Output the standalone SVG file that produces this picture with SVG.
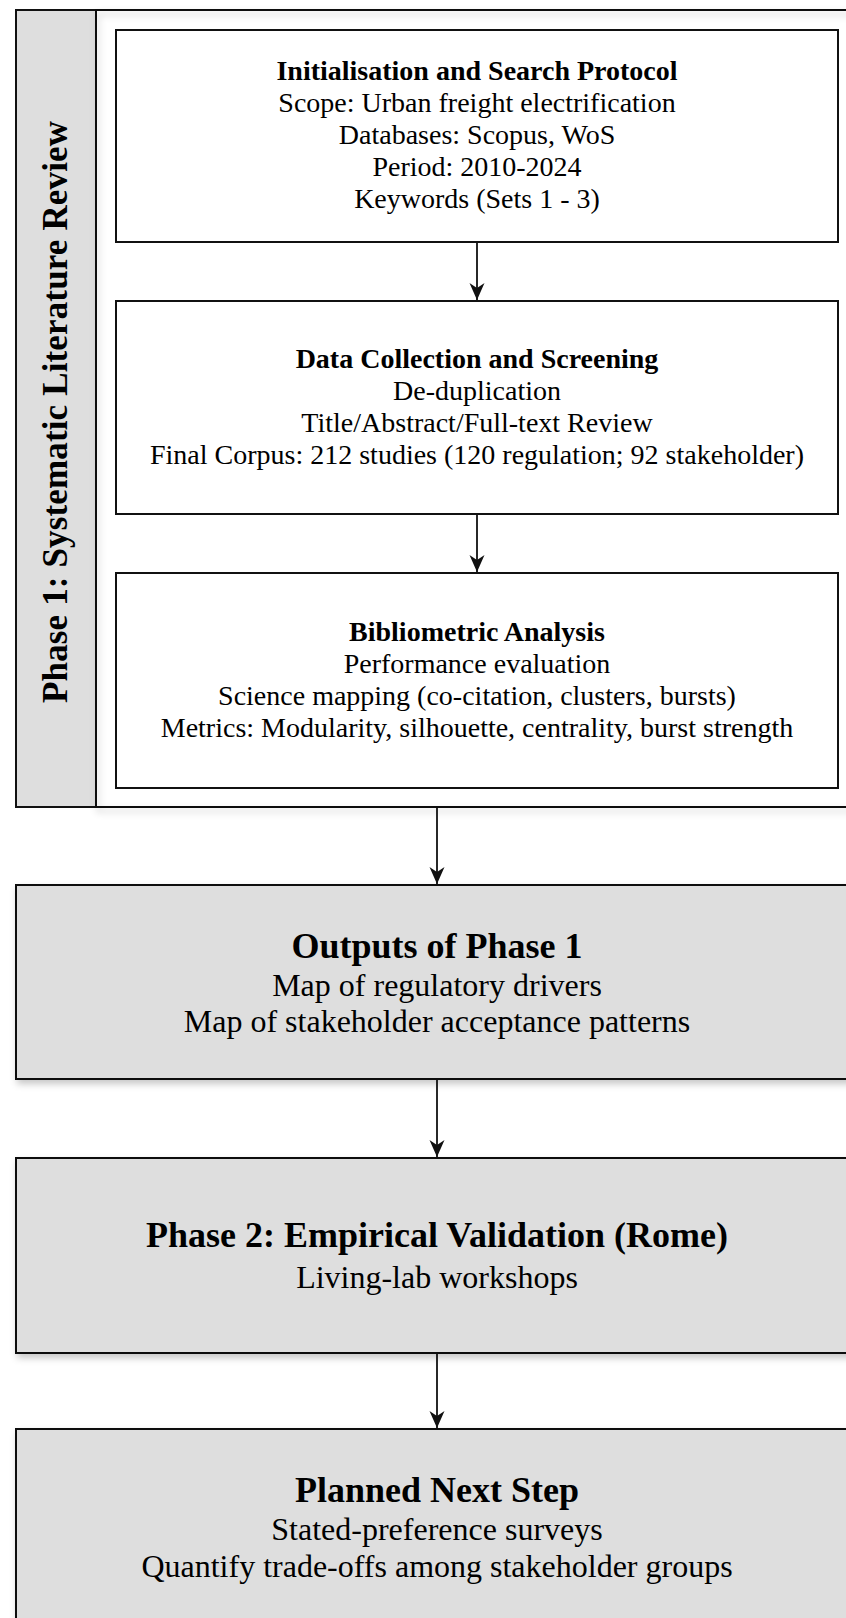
<svg xmlns="http://www.w3.org/2000/svg" width="846" height="1618" viewBox="0 0 846 1618">
<defs>
<style>
.t{font-family:"Liberation Serif","Times New Roman",serif;fill:#000;text-anchor:middle}
.b28{font-size:28px;font-weight:bold}
.r28{font-size:28px}
.b36{font-size:36px;font-weight:bold}
.r32{font-size:32px}
.box{fill:#fff;stroke:#111;stroke-width:2}
.gbox{fill:#dedede;stroke:#111;stroke-width:2}
.edge{fill:none;stroke:#111;stroke-width:1.8}
</style>
<filter id="sh" x="-10%" y="-10%" width="130%" height="130%">
<feDropShadow dx="2" dy="4" stdDeviation="3.5" flood-color="#000" flood-opacity="0.22"/>
</filter>
<marker id="ah" markerWidth="18" markerHeight="16" refX="17" refY="8" orient="auto" markerUnits="userSpaceOnUse" viewBox="0 0 18 16">
<path d="M0,0.5 L17,8 L0,15.5 L5,8 Z" fill="#111"/>
</marker>
</defs>

<g id="phase1-container">
<rect x="16" y="10" width="80" height="797" fill="#dedede" stroke="#111" stroke-width="2"/>
<rect x="96" y="10" width="762" height="797" fill="none" stroke="#111" stroke-width="2" filter="url(#sh)"/>
<text class="t" font-size="35" font-weight="bold" textLength="582" lengthAdjust="spacing" transform="translate(67,412) rotate(-90)">Phase 1: Systematic Literature Review</text>
</g>

<g id="node-init">
<rect class="box" x="116" y="30" width="722" height="212"/>
<text class="t b28" x="477" y="80">Initialisation and Search Protocol</text>
<text class="t r28" x="477" y="112">Scope: Urban freight electrification</text>
<text class="t r28" x="477" y="144">Databases: Scopus, WoS</text>
<text class="t r28" x="477" y="176">Period: 2010-2024</text>
<text class="t r28" x="477" y="208">Keywords (Sets 1 - 3)</text>
</g>

<g id="node-collection">
<rect class="box" x="116" y="301" width="722" height="213"/>
<text class="t b28" x="477" y="368">Data Collection and Screening</text>
<text class="t r28" x="477" y="400">De-duplication</text>
<text class="t r28" x="477" y="432">Title/Abstract/Full-text Review</text>
<text class="t r28" x="477" y="464">Final Corpus: 212 studies (120 regulation; 92 stakeholder)</text>
</g>

<g id="node-biblio">
<rect class="box" x="116" y="573" width="722" height="215"/>
<text class="t b28" x="477" y="641">Bibliometric Analysis</text>
<text class="t r28" x="477" y="673">Performance evaluation</text>
<text class="t r28" x="477" y="705">Science mapping (co-citation, clusters, bursts)</text>
<text class="t r28" x="477" y="737">Metrics: Modularity, silhouette, centrality, burst strength</text>
</g>

<g id="node-outputs">
<rect class="gbox" x="16" y="885" width="842" height="194" filter="url(#sh)"/>
<text class="t b36" x="437" y="958">Outputs of Phase 1</text>
<text class="t r32" x="437" y="996">Map of regulatory drivers</text>
<text class="t r32" x="437" y="1032">Map of stakeholder acceptance patterns</text>
</g>

<g id="node-phase2">
<rect class="gbox" x="16" y="1158" width="842" height="195" filter="url(#sh)"/>
<text class="t b36" x="437" y="1247">Phase 2: Empirical Validation (Rome)</text>
<text class="t r32" x="437" y="1288">Living-lab workshops</text>
</g>

<g id="node-next">
<rect class="gbox" x="16" y="1429" width="842" height="196" filter="url(#sh)"/>
<text class="t b36" x="437" y="1502">Planned Next Step</text>
<text class="t r32" x="437" y="1540">Stated-preference surveys</text>
<text class="t r32" x="437" y="1577">Quantify trade-offs among stakeholder groups</text>
</g>

<g id="connectors">
<line class="edge" x1="477" y1="243" x2="477" y2="300" marker-end="url(#ah)"/>
<line class="edge" x1="477" y1="515" x2="477" y2="572" marker-end="url(#ah)"/>
<line class="edge" x1="437" y1="808" x2="437" y2="884" marker-end="url(#ah)"/>
<line class="edge" x1="437" y1="1080" x2="437" y2="1157" marker-end="url(#ah)"/>
<line class="edge" x1="437" y1="1354" x2="437" y2="1428" marker-end="url(#ah)"/>
</g>
</svg>
